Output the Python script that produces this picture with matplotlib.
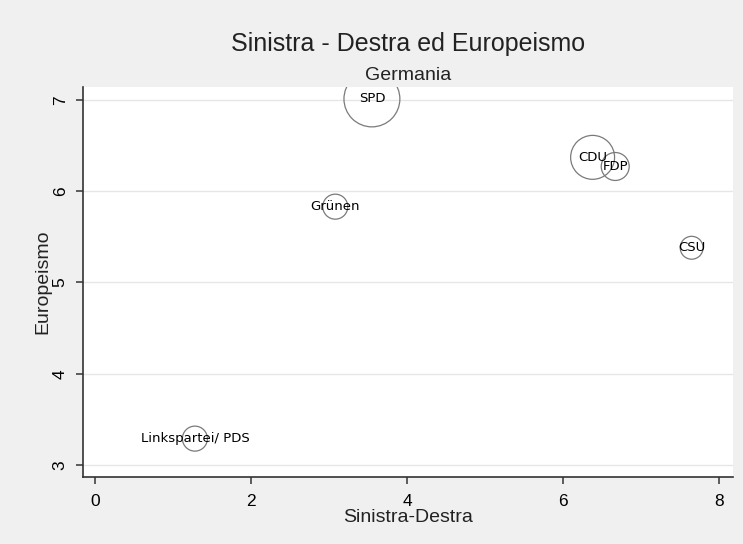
import numpy as np
import matplotlib
matplotlib.use("Agg")
import matplotlib.pyplot as plt

partiti = ["SPD", "CDU", "FDP", "CSU", "Grünen", "Linkspartei/ PDS"]
sinistra_destra = [3.55, 6.38, 6.67, 7.65, 3.08, 1.28]
europeismo = [7.01, 6.37, 6.27, 5.38, 5.83, 3.29]
peso = [34.0, 21.0, 8.5, 5.7, 6.8, 6.8]

xticks = [0, 2, 4, 6, 8]
yticks = [3, 4, 5, 6, 7]

plt.rcParams['font.family'] = ['Liberation Sans', 'DejaVu Sans']

fig = plt.figure(figsize=(7.43, 5.44), dpi=100, facecolor="#f0f0f0")
ax = fig.add_axes([0.1117, 0.1232, 0.8748, 0.7168])
ax.set_facecolor("white")

sizes = np.array(peso) / peso[0] * 1620
ax.scatter(sinistra_destra, europeismo, s=sizes, facecolors="none",
           edgecolors="#7a7a7a", linewidths=0.9, zorder=3)

for nome, x, y in zip(partiti, sinistra_destra, europeismo):
    ax.text(x, y, nome, ha="center", va="center", fontsize=9.5,
            family="DejaVu Sans", color="black", zorder=4)

ax.set_xlim(-0.155, 8.18)
ax.set_ylim(2.87, 7.14)
ax.set_xticks(xticks)
ax.set_yticks(yticks)
ax.tick_params(axis="both", direction="out", length=5, width=1.1,
               color="#333333", labelsize=12.5)
ax.tick_params(axis="x", pad=7)
ax.tick_params(axis="y", pad=6)
plt.setp(ax.get_yticklabels(), rotation=90, va="center")
ax.yaxis.grid(True, color="#e6e6e6", lw=1.0)
ax.set_axisbelow(True)

for s in ["top", "right"]:
    ax.spines[s].set_visible(False)
for s in ["left", "bottom"]:
    ax.spines[s].set_linewidth(1.2)
    ax.spines[s].set_color("#333333")

ax.set_xlabel("Sinistra-Destra", fontsize=14, labelpad=0, color="#222222")
ax.set_ylabel("Europeismo", fontsize=14, labelpad=1, color="#222222")

fig.text(0.5495, 0.9063, "Sinistra - Destra ed Europeismo", ha="center",
         va="baseline", fontsize=18, color="#222222")
fig.text(0.5495, 0.853, "Germania", ha="center", va="baseline", fontsize=14,
         color="#222222")

fig.savefig("out.png", dpi=100, facecolor=fig.get_facecolor())
